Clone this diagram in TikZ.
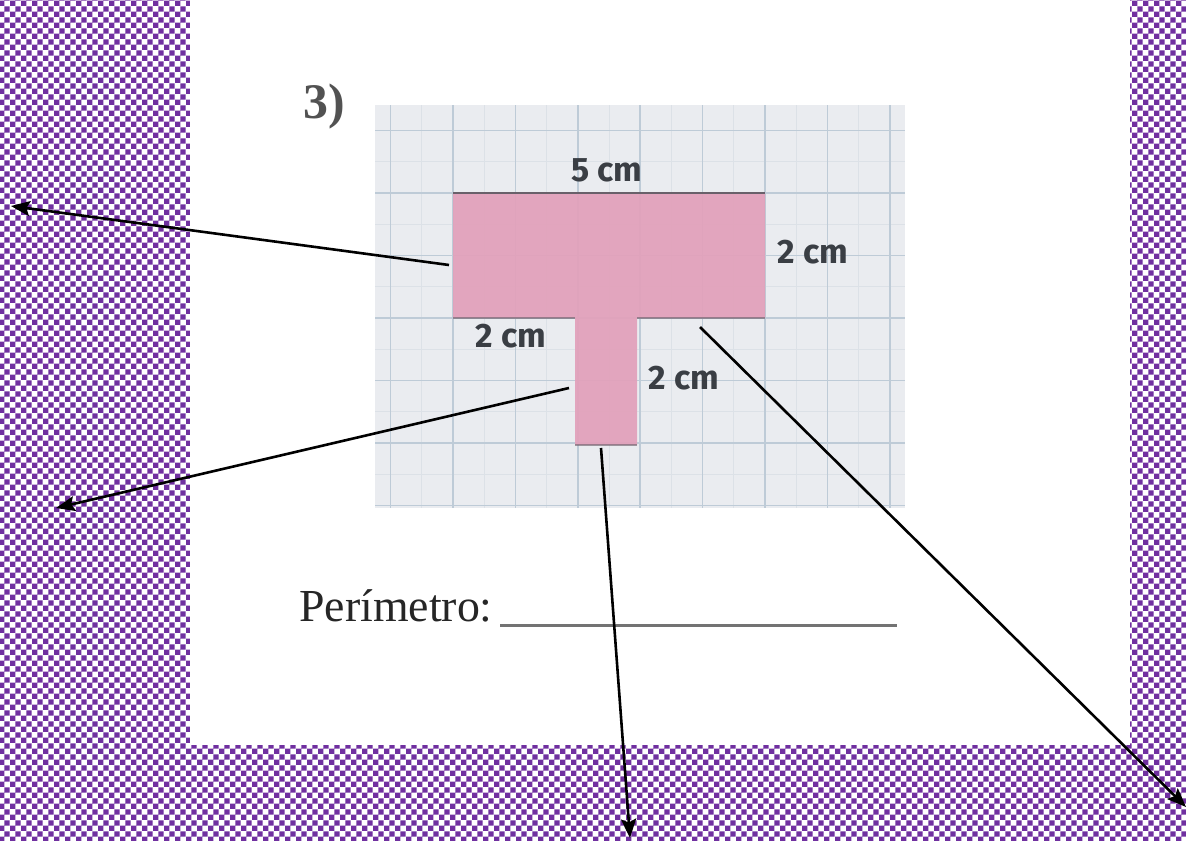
\documentclass[tikz,border=0pt]{standalone}
\usepackage{fontspec}
\setsansfont{Fira Sans}
\newfontfamily\labelserif{Liberation Serif}
\usetikzlibrary{patterns,arrows.meta}
\definecolor{bgpurple}{RGB}{112,48,160}
\definecolor{gridbg}{RGB}{234,236,240}
\definecolor{gridmajor}{RGB}{190,203,215}
\definecolor{gridminor}{RGB}{220,225,231}
\definecolor{tpink}{RGB}{226,160,186}
\definecolor{labelgray}{RGB}{58,62,68}
\definecolor{edgegray}{RGB}{105,96,106}
\begin{document}
\begin{tikzpicture}[x=1bp,y=-1bp,
  lbl/.style={font=\sffamily\bfseries\fontsize{34}{36}\selectfont, text=labelgray, inner sep=0pt},
  majorline/.style={draw=gridmajor, line width=1.6bp},
  minorline/.style={draw=gridminor, line width=1bp},
  pointer/.style={draw=black, line width=2.6bp, -{Stealth[length=19bp,width=15bp,inset=3.5bp]}}]
\useasboundingbox (0,0) rectangle (1186,841);
% background
\fill[white] (0,0) rectangle (1186,841);
\fill[pattern=checkerboard, pattern color=bgpurple] (0,0) rectangle (1186,841);
\fill[white] (190,0) rectangle (1130,745);
% grid paper
\fill[gridbg] (375,105) rectangle (905,508);
\foreach \i in {-1,...,6} {\draw[minorline] ({453+62.4*(\i+0.5)},105) -- ({453+62.4*(\i+0.5)},508);}
\foreach \j in {-1,...,4} {\draw[minorline] (375,{193+62.5*(\j+0.5)}) -- (905,{193+62.5*(\j+0.5)});}
\foreach \i in {-1,...,7} {\draw[majorline] ({453+62.4*\i},105) -- ({453+62.4*\i},508);}
\foreach \j in {-1,...,5} {\draw[majorline] (375,{193+62.5*\j}) -- (905,{193+62.5*\j});}
% T shape
\fill[tpink, fill opacity=0.92] (453,193) -- (765,193) -- (765,318) -- (637,318) -- (637,445) -- (575,445) -- (575,318) -- (453,318) -- cycle;
\draw[edgegray, line width=1.4bp, opacity=0.6] (453,318) -- (575,318) (637,318) -- (765,318) (575,445) -- (637,445);
\draw[edgegray, line width=2.8bp] (453,193) -- (765,193);
% labels
\node[lbl] (l5)  at (607,170) {5 cm};
\node[lbl] (l2r) at (813,252) {2 cm};
\node[lbl] (l2l) at (511,336) {2 cm};
\node[lbl] (l2s) at (684,378) {2 cm};
\node[font=\labelserif\bfseries\fontsize{50}{52}\selectfont, text=black!68, anchor=base west, inner sep=0pt] (num) at (303,118) {3)};
\node[font=\labelserif\fontsize{46}{48}\selectfont, text=black!85, anchor=base west, inner sep=0pt] (per) at (299,621) {Perímetro:};
\draw[black!55, line width=3bp] (500,625) -- (897,625);
% pointer anchors
\coordinate (s1) at (449,265);
\coordinate (e1) at (11,206);
\coordinate (s2) at (569,388);
\coordinate (e2) at (56,508);
\coordinate (s3) at (601,448);
\coordinate (e3) at (630,838);
\coordinate (s4) at (700,327);
\coordinate (e4) at (1186,807);
\draw[pointer] (s1) -- (e1);
\draw[pointer] (s2) -- (e2);
\draw[pointer] (s3) -- (e3);
\draw[pointer] (s4) -- (e4);
\end{tikzpicture}
\end{document}
